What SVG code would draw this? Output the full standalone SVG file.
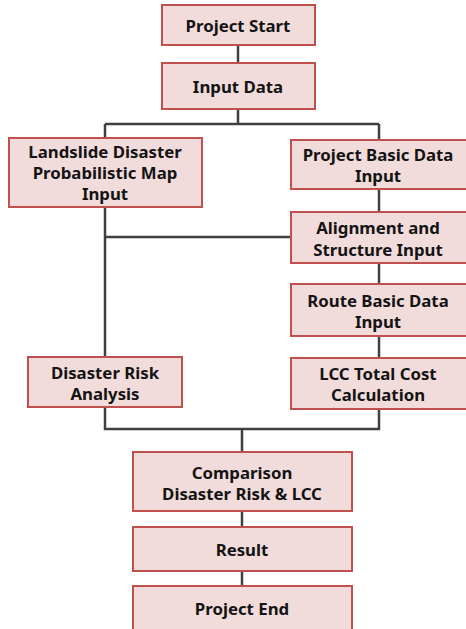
<svg xmlns="http://www.w3.org/2000/svg" width="466" height="629" viewBox="0 0 466 629">
<style>
.box{fill:#f2dcdb;stroke:#c0504d;stroke-width:2}
.t{font-family:"Noto Sans","Open Sans",sans-serif;font-weight:bold;font-size:16.8px;fill:#141414;text-anchor:middle;dominant-baseline:central}
.c{fill:none;stroke:#404040;stroke-width:2.5}
</style>
<rect width="466" height="629" fill="#ffffff"/>
<g id="connectors">
<path class="c" d="M238 45V63"/>
<path class="c" d="M238 109V124M105 124H379M105 124V138M379 124V140"/>
<path class="c" d="M379 189V212"/>
<path class="c" d="M105 207V357M105 237H291"/>
<path class="c" d="M379 263V284"/>
<path class="c" d="M379 336V358"/>
<path class="c" d="M105 407V429H379V409M242 429V452"/>
<path class="c" d="M242 511V527"/>
<path class="c" d="M242 571V586"/>
</g>
<g id="project-start"><rect class="box" x="162" y="5" width="153" height="40"/><text class="t" x="238" y="25">Project Start</text></g>
<g id="input-data"><rect class="box" x="162" y="63" width="153" height="46"/><text class="t" x="238" y="86">Input Data</text></g>
<g id="landslide"><rect class="box" x="9" y="138" width="193" height="69"/><text class="t" x="105" y="151">Landslide Disaster</text><text class="t" x="105" y="172">Probabilistic Map</text><text class="t" x="105" y="193.5">Input</text></g>
<g id="project-basic"><rect class="box" x="291" y="140" width="178" height="49"/><text class="t" x="378" y="154">Project Basic Data</text><text class="t" x="378" y="175">Input</text></g>
<g id="alignment"><rect class="box" x="291" y="212" width="178" height="51"/><text class="t" x="378" y="227">Alignment and</text><text class="t" x="378" y="249">Structure Input</text></g>
<g id="route-basic"><rect class="box" x="291" y="284" width="178" height="52"/><text class="t" x="378" y="300">Route Basic Data</text><text class="t" x="378" y="321">Input</text></g>
<g id="disaster-risk"><rect class="box" x="28" y="357" width="154" height="50"/><text class="t" x="105" y="372">Disaster Risk</text><text class="t" x="105" y="393">Analysis</text></g>
<g id="lcc"><rect class="box" x="291" y="358" width="178" height="51"/><text class="t" x="378" y="373">LCC Total Cost</text><text class="t" x="378" y="394">Calculation</text></g>
<g id="comparison"><rect class="box" x="133" y="452" width="219" height="59"/><text class="t" x="242" y="472">Comparison</text><text class="t" x="242" y="493">Disaster Risk &amp; LCC</text></g>
<g id="result"><rect class="box" x="133" y="527" width="219" height="44"/><text class="t" x="242" y="549">Result</text></g>
<g id="project-end"><rect class="box" x="133" y="586" width="219" height="50"/><text class="t" x="242" y="608">Project End</text></g>
</svg>
